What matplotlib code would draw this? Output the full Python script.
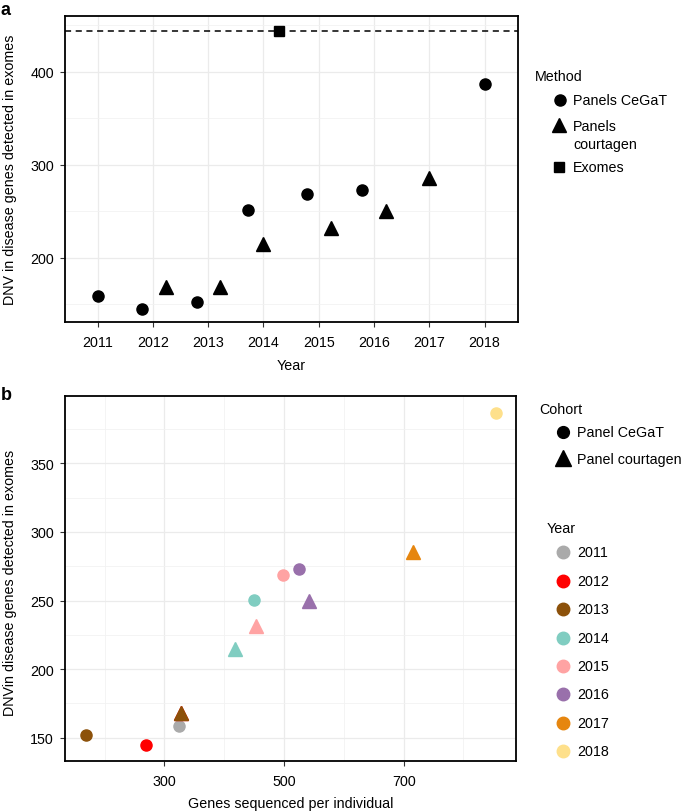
import matplotlib
matplotlib.use("Agg")
import matplotlib.pyplot as plt
from matplotlib.lines import Line2D
from matplotlib.ticker import MultipleLocator

plt.rcParams['font.family'] = ['Liberation Sans', 'DejaVu Sans']
plt.rcParams['font.size'] = 10.3

# Year legend
years = ['2011', '2012', '2013', '2014', '2015', '2016', '2017', '2018']
year_colors = ['#aaaaaa', '#ff0000', '#8c510a', '#80cdc1', '#ffa3a3', '#9970ab', '#e6860f', '#fee08b']

# Panels CeGaT
cegat_year = ['2011', '2012', '2013', '2014', '2015', '2016', '2018']
cegat_date = [2011.0, 2011.8, 2012.8, 2013.72, 2014.79, 2015.78, 2018.0]
cegat_dnv = [158.5, 144.5, 152, 250.7, 268.5, 272.6, 387]
cegat_genes = [324, 269, 169, 450, 499, 525, 855]

# Panels courtagen
court_year = ['2012', '2013', '2014', '2015', '2016', '2017']
court_date = [2012.23, 2013.21, 2014.0, 2015.22, 2016.22, 2017.0]
court_dnv = [168, 168, 214.7, 231.7, 249.8, 285.5]
court_genes = [328, 328, 418, 453, 542, 716]

# Exomes
exome_date = [2014.28]
exome_dnv = [444]

color_of = dict(zip(years, year_colors))

W, H = 685, 812
fig = plt.figure(figsize=(W / 100, H / 100), dpi=100)
ax1 = fig.add_axes([0.0949, 0.602, 0.661, 0.377])
ax2 = fig.add_axes([0.0949, 0.0612, 0.659, 0.4503])


def style(ax):
    ax.grid(True, which='major', color='#ebebeb', lw=0.9, zorder=0)
    ax.grid(True, which='minor', color='#f2f2f2', lw=0.6, zorder=0)
    ax.set_axisbelow(True)
    for s in ax.spines.values():
        s.set_linewidth(1.3)
        s.set_color('black')
    ax.tick_params(which='major', length=3.5, width=0.8, color='#333333', labelsize=10.3, labelcolor='black')
    ax.tick_params(axis='x', pad=5.5)
    ax.tick_params(axis='y', pad=4.5)
    ax.tick_params(which='minor', length=0)


# legend keys and labels placed in pixel positions of the figure
def key(x, y, marker, color, ms):
    fig.add_artist(Line2D([x / W], [1 - y / H], transform=fig.transFigure, marker=marker,
                          color=color, ms=ms, ls='none'))


def label(x, y, text):
    fig.text(x / W, 1 - y / H, text, ha='left', va='center', fontsize=10.3)


# ---- panel a
style(ax1)
ax1.axhline(exome_dnv[0], color='black', ls=(0, (4, 3)), lw=1.1, zorder=2)
ax1.plot(cegat_date, cegat_dnv, 'o', color='black', ms=8, ls='none', zorder=3)
ax1.plot(court_date, court_dnv, '^', color='black', ms=10, ls='none', zorder=3)
ax1.plot(exome_date, exome_dnv, 's', color='black', ms=7.5, ls='none', zorder=3)
ax1.set_xlim(2010.41, 2018.6)
ax1.set_ylim(130.6, 459.7)
ax1.set_xticks(range(2011, 2019))
ax1.set_yticks([200, 300, 400])
ax1.yaxis.set_minor_locator(MultipleLocator(50))
ax1.set_xlabel('Year')
ax1.set_ylabel('DNV in disease genes detected in exomes')
ax1.xaxis.set_label_coords(0.5, -0.118)
ax1.yaxis.set_label_coords(-0.105, 0.5)

label(535, 77, 'Method')
key(560, 101, 'o', 'black', 8)
label(573, 101, 'Panels CeGaT')
key(559, 126, '^', 'black', 10)
label(573, 127, 'Panels')
label(573, 145, 'courtagen')
key(559, 168, 's', 'black', 7.5)
label(573, 168, 'Exomes')

# ---- panel b
style(ax2)
for y, gx, d in zip(cegat_year, cegat_genes, cegat_dnv):
    ax2.plot([gx], [d], 'o', color=color_of[y], ms=8, ls='none', zorder=3)
for y, gx, d in zip(court_year, court_genes, court_dnv):
    ax2.plot([gx], [d], '^', color=color_of[y], ms=10, ls='none', zorder=3)
ax2.set_xlim(133.8, 888.6)
ax2.set_ylim(132.8, 399.3)
ax2.set_xticks([300, 500, 700])
ax2.xaxis.set_minor_locator(MultipleLocator(100))
ax2.set_yticks([150, 200, 250, 300, 350])
ax2.yaxis.set_minor_locator(MultipleLocator(25))
ax2.set_xlabel('Genes sequenced per individual')
ax2.set_ylabel('DNVin disease genes detected in exomes')
ax2.xaxis.set_label_coords(0.5, -0.094)
ax2.yaxis.set_label_coords(-0.106, 0.49)

label(539, 410, 'Cohort')
key(563, 433, 'o', 'black', 8.5)
label(577, 433, 'Panel CeGaT')
key(563, 459, '^', 'black', 11)
label(577, 460, 'Panel courtagen')

label(547, 529, 'Year')
for i, (yr, c) in enumerate(zip(years, year_colors)):
    ypx = 553.3 + i * 28.43
    key(563, ypx, 'o', c, 9)
    label(577, ypx, yr)

fig.text(0.001, 0.998, 'a', fontsize=13, fontweight='bold', va='top', ha='left')
fig.text(0.001, 0.523, 'b', fontsize=13, fontweight='bold', va='top', ha='left')

fig.savefig('out.png', dpi=100)
